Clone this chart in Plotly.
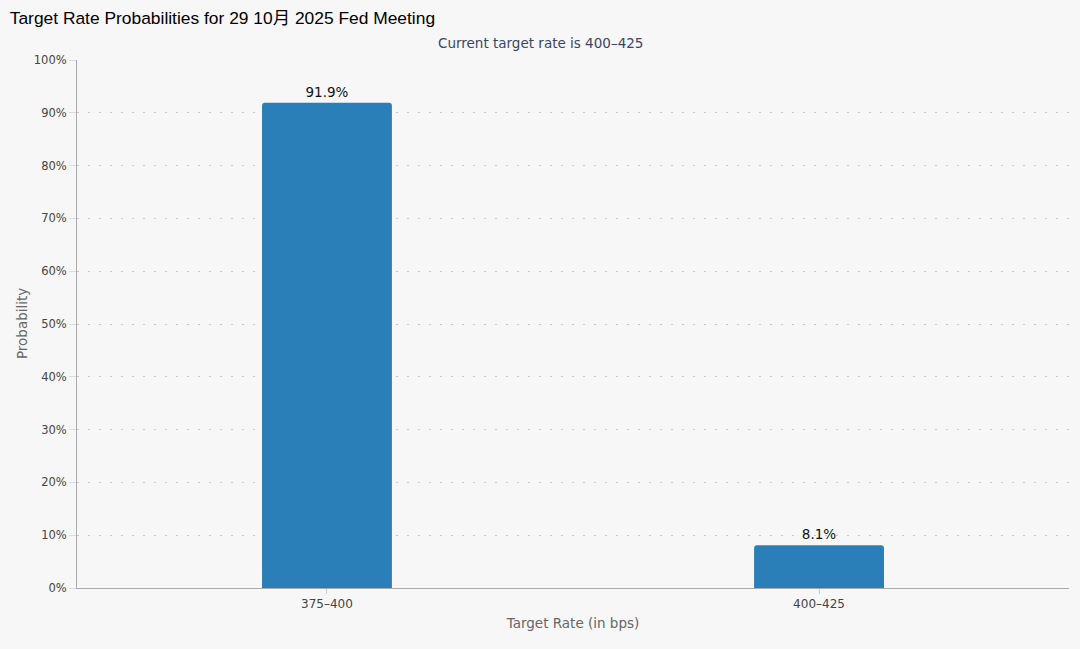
import plotly.graph_objects as go

categories = ["375–400", "400–425"]
probabilities = [91.9, 8.1]
labels = ["91.9%", "8.1%"]
y_ticks = [0, 10, 20, 30, 40, 50, 60, 70, 80, 90, 100]
y_tick_text = [f"{v}%" for v in y_ticks]

fig = go.Figure(go.Bar(
    x=categories, y=probabilities, text=labels, textposition="outside",
    textfont=dict(family="DejaVu Sans", size=13.5, color="#111111"),
    marker=dict(color="#2b7fb8", line=dict(width=0)),
    width=0.264, cliponaxis=False,
))

fig.update_layout(
    width=1080, height=649,
    paper_bgcolor="#f7f7f7", plot_bgcolor="#f7f7f7",
    margin=dict(l=77, r=11, t=60, b=61),
    barcornerradius=3,
    showlegend=False,
    title=dict(text="Target Rate Probabilities for 29 10月 2025 Fed Meeting",
               x=0.009, xanchor="left", y=0.972, yanchor="middle",
               font=dict(family="Liberation Sans, Noto Sans CJK SC", size=17.4, color="#000000")),
    annotations=[
        dict(text="Current target rate is 400–425", xref="paper", yref="paper",
             x=0.467, y=1.0, yshift=17, xanchor="center", yanchor="middle", showarrow=False,
             font=dict(family="DejaVu Sans", size=13.5, color="#3a4566")),
        dict(text="Probability", xref="paper", yref="paper", x=-0.0554, y=0.5,
             xanchor="center", yanchor="middle", textangle=-90, showarrow=False,
             font=dict(family="DejaVu Sans", size=13.5, color="#666666")),
    ],
    font=dict(family="DejaVu Sans", size=12, color="#555555"),
)
fig.update_xaxes(range=[-0.508, 1.508], showline=True, linecolor="#aaaaaa", linewidth=1,
                 ticks="outside", ticklen=5, tickcolor="#cccccc",
                 tickfont=dict(size=12, color="#444444"),
                 title=dict(text="Target Rate (in bps)", font=dict(size=13.5, color="#666666"), standoff=8),
                 showgrid=False, zeroline=False)
fig.update_yaxes(range=[0, 100], tickvals=y_ticks, ticktext=y_tick_text,
                 showline=True, linecolor="#aaaaaa", linewidth=1,
                 ticks="outside", ticklen=7, tickcolor="#dddddd",
                 tickfont=dict(size=11.5, color="#444444"),
                 showgrid=True, gridcolor="#c8c8c8", griddash="2px,9px", gridwidth=1,
                 zeroline=False)

fig.write_html("out.html", config={"displayModeBar": False},
               post_script="document.body.style.margin='0';document.body.style.background='#f7f7f7';")
